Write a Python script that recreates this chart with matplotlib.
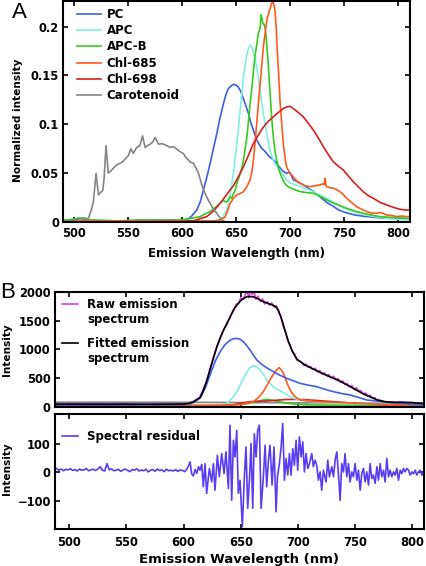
import matplotlib
matplotlib.use('Agg')
import matplotlib.pyplot as plt
from matplotlib.lines import Line2D

plt.rcParams['font.family'] = ['DejaVu Sans']
plt.rcParams['font.weight'] = 'bold'

# ---------------- panel A: normalized component spectra ----------------
pc_wl = [490, 550, 600, 604.5, 609, 613.7, 617, 619.8, 623, 626, 629, 632.2, 635, 638.3, 640.5, 642.9,
         645, 647.5, 650, 652.1, 654.5, 656.8, 659, 661.4, 663.5, 666, 669.1, 671.5, 673.7, 676, 678.3,
         680.5, 682.9, 685, 687.6, 690, 692.2, 694.5, 696.8, 699.5, 702.9, 707, 712.1, 716, 721.4, 726,
         730.6, 735, 739.8, 745, 752.2, 760, 767.5, 775, 782.8, 795, 807.5, 811]
pc_val = [0.001, 0.001, 0.001, 0.002, 0.006, 0.0122, 0.021, 0.0327, 0.046, 0.060, 0.075, 0.0905, 0.106,
          0.121, 0.130, 0.1364, 0.139, 0.1408, 0.140, 0.138, 0.133, 0.126, 0.119, 0.1109, 0.102, 0.094,
          0.0837, 0.079, 0.0752, 0.073, 0.070, 0.067, 0.065, 0.063, 0.060, 0.056, 0.0531, 0.051, 0.0497,
          0.051, 0.043, 0.041, 0.038, 0.035, 0.0313, 0.027, 0.0228, 0.019, 0.016, 0.012, 0.0092, 0.007,
          0.0058, 0.005, 0.0041, 0.0035, 0.003, 0.003]

apc_wl = [490, 600, 630, 635.2, 638, 641.4, 644, 646, 648.5, 650.6, 652.2, 653.7, 655.3, 656.8, 658.3,
          659.9, 661.4, 662.9, 664.5, 666, 667.5, 669.1, 670.6, 672.2, 673.7, 675.2, 676.8, 678.3, 679.9,
          681.4, 683.5, 686, 688.3, 690.6, 693.5, 696.8, 699.9, 705, 710, 715, 721.4, 728, 735, 742, 750,
          760, 770, 780, 795, 811]
apc_val = [0.001, 0.001, 0.001, 0.002, 0.006, 0.0122, 0.024, 0.0388, 0.058, 0.0796, 0.096, 0.1136, 0.131,
           0.1476, 0.160, 0.1714, 0.177, 0.1806, 0.179, 0.173, 0.167, 0.1578, 0.147, 0.1341, 0.122, 0.1103,
           0.100, 0.090, 0.081, 0.073, 0.066, 0.0592, 0.056, 0.0531, 0.048, 0.043, 0.040, 0.038, 0.036,
           0.034, 0.031, 0.027, 0.023, 0.019, 0.0139, 0.010, 0.007, 0.005, 0.003, 0.002]

apcb_wl = [490, 495, 500, 505, 510, 515, 520, 540, 560, 580, 600, 605, 610, 616.8, 621, 626, 630, 635.2,
           638, 641, 644.5, 646, 647.5, 649, 650.6, 652.2, 653.7, 655.3, 656.8, 658.3, 659.9, 661.4, 662.9,
           664.5, 666, 667.5, 669.1, 670.6, 672.2, 673, 673.7, 674.8, 676.1, 677.2, 678.3, 679.5, 680.7,
           681.8, 682.9, 684, 685.1, 686.3, 687.6, 690, 692.2, 694.5, 696.8, 700, 704, 709.1, 715, 721.4,
           728, 736.8, 745, 752.2, 760, 767.5, 775, 782.8, 795, 807.5, 811]
apcb_val = [0.002, 0.002, 0.003, 0.004, 0.004, 0.002, 0.002, 0.001, 0.002, 0.002, 0.002, 0.003, 0.004,
            0.0054, 0.008, 0.0105, 0.014, 0.019, 0.022, 0.020, 0.0258, 0.024, 0.029, 0.032, 0.039, 0.044,
            0.0497, 0.055, 0.063, 0.074, 0.0864, 0.103, 0.1204, 0.136, 0.1544, 0.170, 0.1816, 0.193, 0.1986,
            0.212, 0.2088, 0.203, 0.202, 0.196, 0.1816, 0.165, 0.1442, 0.125, 0.1068, 0.092, 0.0796, 0.070,
            0.0626, 0.052, 0.0456, 0.040, 0.0371, 0.035, 0.033, 0.031, 0.030, 0.0293, 0.026, 0.0207, 0.017,
            0.0139, 0.011, 0.0088, 0.007, 0.0054, 0.0045, 0.0037, 0.0035]

c685_wl = [490, 550, 600, 620, 630, 635.2, 639.8, 642, 644.5, 647.5, 650.6, 653.7, 656.8, 659.9, 662.9,
           664.5, 666, 667.5, 669.1, 670.6, 672.2, 673.7, 675.2, 676.8, 678.3, 679.9, 681.4, 682.6, 683.9,
           685, 686, 687, 688.1, 689.4, 690.6, 692.2, 693.7, 695.3, 696.8, 699.9, 702.9, 706, 709.1, 713.5,
           718.3, 723, 727.6, 730, 731.5, 732.2, 733, 733.7, 736.5, 739.8, 743, 746, 749, 752.2, 756.5,
           761.4, 766, 770.7, 775, 779.9, 784, 789.1, 794, 798.4, 803, 807.5, 811]
c685_val = [0.001, 0.001, 0.001, 0.001, 0.001, 0.002, 0.005, 0.011, 0.019, 0.024, 0.0276, 0.029, 0.031,
            0.036, 0.043, 0.051, 0.063, 0.081, 0.1006, 0.121, 0.1415, 0.160, 0.179, 0.193, 0.206, 0.213,
            0.218, 0.223, 0.226, 0.222, 0.216, 0.200, 0.1748, 0.150, 0.1238, 0.100, 0.080, 0.065, 0.0558,
            0.050, 0.046, 0.042, 0.0395, 0.037, 0.0361, 0.037, 0.0378, 0.039, 0.038, 0.0446, 0.038, 0.036,
            0.035, 0.0344, 0.033, 0.031, 0.028, 0.0242, 0.020, 0.0156, 0.013, 0.0105, 0.009, 0.0088, 0.0095,
            0.0071, 0.0065, 0.0054, 0.006, 0.0054, 0.0054]

c698_wl = [490, 550, 600, 610, 616, 622.9, 629, 635.2, 640, 644.5, 647.5, 652.2, 656.8, 661.4, 666, 670.6,
           675.2, 679.8, 684.4, 689, 693.7, 696.8, 699.9, 702.9, 707.5, 712.1, 716.8, 721.4, 726, 730.6,
           735.2, 739.8, 744.5, 749.1, 753.7, 758.3, 763, 767.5, 772, 776.8, 783, 789.1, 795, 801.4, 806, 811]
c698_val = [0.0, 0.0, 0.0005, 0.001, 0.003, 0.0054, 0.011, 0.019, 0.026, 0.0327, 0.037, 0.0463, 0.0565,
            0.068, 0.0803, 0.089, 0.097, 0.103, 0.1075, 0.112, 0.116, 0.1177, 0.1183, 0.116, 0.112, 0.1075,
            0.101, 0.094, 0.086, 0.077, 0.069, 0.0616, 0.057, 0.0531, 0.047, 0.0412, 0.036, 0.031, 0.027,
            0.0242, 0.020, 0.0174, 0.015, 0.0129, 0.0122, 0.012]

car_wl = [490, 495, 500, 505, 508, 511, 513.6, 516, 518, 520.5, 522.7, 524.5, 526.7, 528, 529.7, 531.8, 534,
          536.4, 539, 542.6, 545.5, 548.8, 550.5, 552.7, 554.9, 558, 561, 563.5, 565.9, 568, 570.6, 573,
          575.2, 578.2, 580.5, 582.8, 586, 589, 592, 595.2, 598, 601.3, 603.5, 605.9, 608, 610.5, 613,
          615.2, 617.5, 619.8, 623, 626, 629, 632.2, 634.5, 636.8, 640]
car_val = [0.001, 0.001, 0.002, 0.003, 0.003, 0.002, 0.004, 0.012, 0.020, 0.0497, 0.0276, 0.030, 0.032,
           0.045, 0.078, 0.050, 0.052, 0.0548, 0.058, 0.0599, 0.062, 0.066, 0.068, 0.075, 0.070, 0.0762,
           0.0779, 0.088, 0.0762, 0.078, 0.0796, 0.082, 0.0864, 0.0796, 0.080, 0.0796, 0.078, 0.0762, 0.077,
           0.0745, 0.072, 0.070, 0.066, 0.0633, 0.061, 0.060, 0.055, 0.0497, 0.041, 0.0327, 0.025, 0.019,
           0.013, 0.0088, 0.005, 0.002, 0.0]

# ---------------- panel B: measured spectrum and fit ----------------
raw_wl = [487, 495, 505, 515, 525, 535, 545, 555, 565, 575, 585, 595, 600, 605, 609, 614, 617, 620, 623,
          626, 629, 632, 635, 638, 641, 644, 646, 648, 650, 652, 654, 655.5, 657, 658.5, 660, 661.5, 663,
          665, 667, 669, 671, 673, 675, 677, 679, 681, 683, 685, 687, 689, 691, 693, 695, 697, 699, 701,
          703, 705, 707, 709, 711, 713, 715, 717, 719, 721, 723, 725, 727, 729, 731, 733, 735, 737, 739,
          741, 743, 745, 747, 749, 751, 753, 755, 757, 759, 761, 763, 765, 767, 769, 772, 776, 780, 785,
          790, 795, 800, 805, 810]
raw_val = [48, 42, 50, 44, 47, 41, 49, 45, 43, 48, 44, 46, 50, 62, 95, 160, 300, 440, 660, 840, 1050, 1190,
           1350, 1440, 1590, 1690, 1790, 1800, 1900, 1870, 1960, 2010, 1900, 2040, 1950, 2020, 1880, 1930,
           1840, 1880, 1790, 1830, 1770, 1810, 1740, 1760, 1640, 1580, 1400, 1310, 1150, 1080, 960, 920,
           810, 800, 780, 720, 740, 690, 700, 650, 670, 610, 630, 570, 590, 540, 560, 500, 530, 470, 490,
           430, 450, 390, 400, 340, 370, 300, 330, 270, 280, 220, 240, 190, 200, 150, 160, 110, 110, 80,
           85, 72, 80, 68, 72, 58, 60]

fit_wl = [487, 500, 520, 540, 560, 580, 600, 605, 609, 614.4, 617, 620.2, 623, 626, 629, 631.9, 634.8,
          637.7, 640.6, 643.6, 646.5, 649.4, 652.3, 655.2, 658.1, 661.1, 664, 666.9, 669.8, 672.7, 675.6,
          678.6, 680.8, 682.9, 685.1, 687.3, 689.5, 691.7, 693.9, 696, 699, 701.9, 706, 710.6, 716, 722.3,
          728, 734, 740, 745.7, 751.5, 757.3, 763, 769, 775, 780.7, 786.5, 792.3, 800, 806.9, 810]
fit_val = [45, 45, 44, 44, 43, 43, 46, 60, 90, 160, 270, 450, 640, 850, 1040, 1200, 1330, 1450, 1560,
           1690, 1770, 1840, 1890, 1918, 1922, 1915, 1890, 1860, 1830, 1810, 1790, 1765, 1740, 1680, 1560,
           1420, 1270, 1130, 1020, 930, 830, 785, 730, 682, 630, 570, 520, 470, 410, 350, 285, 220, 170,
           120, 90, 78, 76, 76, 70, 60, 55]

pcb_wl = [487, 540, 590, 600, 605, 609, 614.4, 619, 623.2, 627.5, 631.9, 636, 640.6, 643.5, 646.5, 649.5,
          652.3, 655, 658.1, 661, 664, 667.5, 671.2, 675, 678.6, 684, 690.2, 696, 701.9, 709, 716.5, 724,
          731, 738, 745.7, 753, 760.3, 767.5, 774.9, 782, 789.4, 800, 809.8]
pcb_val = [30, 30, 32, 35, 45, 75, 150, 330, 560, 790, 960, 1080, 1160, 1185, 1190, 1175, 1132, 1070, 987,
           900, 813, 750, 697, 650, 610, 550, 494, 450, 406, 375, 348, 300, 261, 230, 203, 160, 116, 100,
           87, 70, 58, 40, 29]

apcB_wl = [487, 600, 630, 637.7, 642, 646.5, 650, 653.8, 657.5, 661.1, 664, 666.9, 669.8, 672.7, 675.6,
           678.6, 682, 685.9, 689.5, 693.1, 697, 701.9, 709, 716.5, 730, 760, 810]
apcB_val = [20, 20, 25, 58, 140, 261, 400, 552, 670, 718, 690, 639, 560, 465, 400, 348, 300, 261, 215, 174,
            140, 116, 95, 75, 60, 45, 35]

apcbB_wl = [487, 600, 640, 655, 661, 667, 672.7, 678, 683.5, 690, 696, 710, 810]
apcbB_val = [20, 20, 25, 50, 75, 105, 128, 110, 87, 60, 46, 30, 20]

c685B_wl = [487, 600, 630, 650, 661, 665.5, 669.6, 672.5, 675.4, 678.3, 681.2, 683.5, 685.4, 687.3, 689.5,
            691.7, 694, 696, 699, 701.9, 716.5, 740, 760, 780, 810]
c685B_val = [20, 20, 25, 35, 87, 160, 261, 360, 465, 560, 639, 682, 640, 581, 460, 348, 260, 203, 150, 116,
             87, 70, 50, 35, 25]

c698B_wl = [487, 600, 628, 643.6, 658, 672.7, 690, 700, 710.6, 731, 754, 778, 795, 810]
c698B_val = [15, 15, 20, 35, 87, 100, 125, 128, 116, 87, 52, 30, 20, 15]

carB_wl = [487, 550, 600, 650, 700, 750, 810]
carB_val = [78, 78, 76, 72, 68, 62, 58]

# residual of the fit
res_wl = [487, 489, 491, 493, 495, 497, 499, 501, 503, 505, 507, 509, 511, 513, 515, 517, 519, 521, 523,
          525, 527, 529, 531, 533, 535, 537, 539, 541, 543, 545, 547, 549, 551, 553, 555, 557, 559, 561,
          563, 565, 567, 569, 571, 573, 575, 577, 579, 581, 583, 585, 587, 589, 591, 593, 595, 597, 599,
          601, 603, 605.6, 607, 608.5, 610, 611.4, 613, 614.3, 615.8, 617.2, 618.7, 620.1, 622.5, 624.5,
          626.0, 627.4, 629.5, 631.2, 633.3, 635.3, 637.0, 639.1, 640.5, 642.0, 643.5, 644.9, 646.4, 647.8,
          649.3, 651.3, 653.1, 654.5, 656.0, 657.5, 658.9, 660.4, 661.8, 663.3, 664.7, 666.2, 667.7, 669.7,
          671.2, 672.6, 674.1, 675.5, 677.3, 679.0, 680.8, 682.0, 683.7, 685.2, 686.6, 688.1, 689.5, 691.0,
          692.5, 693.9, 695.4, 696.8, 698.3, 699.7, 701.2, 702.7, 704.1, 705.6, 707.0, 708.5, 710.0, 712.0,
          713.4, 714.9, 716.4, 717.8, 719.3, 720.7, 722.2, 724.5, 726.0, 727.4, 729.5, 731.0, 732.4, 733.9,
          735.3, 736.8, 738.2, 739.7, 741.1, 742.6, 744.1, 745.5, 747.0, 748.4, 749.9, 751.4, 752.8, 754.3,
          755.7, 757.2, 758.6, 760.1, 761.6, 763.0, 764.5, 765.9, 767.4, 768.9, 770.3, 771.8, 773.2, 774.7,
          776.1, 777.6, 779.1, 780.5, 782.0, 783.4, 784.9, 786.3, 787.8, 789.3, 790.7, 792.2, 793.6, 795.1,
          796.6, 798.0, 799.5, 800.9, 802.4, 803.8, 805.3, 806.8, 808.2, 809.7]
res_val = [10, 14, 8, 12, 6, 11, 9, 13, 7, 10, 5, 12, 8, 9, 14, 6, 10, 11, 7, 12, 20, 8, 5, 31, 9, 13, 6,
           8, 11, 4, 9, 12, 7, 3, 10, 8, 13, 5, 9, 6, 11, 2, 8, 10, 4, 12, 7, 9, 3, 11, 6, 8, 5, 10, 4, 9,
           7, 3, 12, 37, -5, -12, 10, -3, 20, 8, 28, -50, 31, -73, 14, -33, 31, -62, 60, -15, 66, -4, 72,
           -56, 165, -97, 112, 54, 147, -73, -27, -189, -15, 89, -125, -27, 101, -125, 135, 54, 147, 165,
           -125, -15, 95, -50, 43, 95, -44, 89, -137, -15, 31, 89, 171, -27, 49, -9, 66, -9, 83, 25, 112,
           8, 124, 54, 107, 2, 66, 14, 31, 66, 20, 43, 25, -27, 2, -62, 8, -33, 43, -15, 20, -15, 43, 72,
           -4, -97, 31, 2, 66, -15, 31, -33, 2, -15, 31, -27, 8, -62, -4, 14, -33, 2, -44, 31, -21, -9,
           -38, 20, -27, 31, -15, 8, -33, 49, -15, 8, -15, 2, -9, 14, -27, 8, -4, 14, 2, 14, 8, -9, 2, -4,
           8, -9, 2, 8, -9, 2]

wl_ticks = [500, 550, 600, 650, 700, 750, 800]

# ---------------- figure ----------------
fig = plt.figure(figsize=(4.26, 5.66), dpi=100)
axA = fig.add_axes([0.148, 0.608, 0.815, 0.390])
axB1 = fig.add_axes([0.129, 0.281, 0.866, 0.203])
axB2 = fig.add_axes([0.129, 0.065, 0.866, 0.203])

lw = 1.2
axA.plot(pc_wl, pc_val, color='#3f5fe0', lw=lw, label='PC')
axA.plot(apc_wl, apc_val, color='#80f0e0', lw=lw, label='APC')
axA.plot(apcb_wl, apcb_val, color='#33cc22', lw=lw, label='APC-B')
axA.plot(c685_wl, c685_val, color='#ff5a1e', lw=lw, label='Chl-685')
axA.plot(c698_wl, c698_val, color='#d42020', lw=lw, label='Chl-698')
axA.plot(car_wl, car_val, color='#858585', lw=lw, label='Carotenoid')
axA.set_xlim(490, 811)
axA.set_ylim(0, 0.226)
axA.set_yticks([0, 0.05, 0.1, 0.15, 0.2])
axA.set_yticklabels(['0', '0.05', '0.1', '0.15', '0.2'])
axA.set_xticks(wl_ticks)
axA.set_xlabel('Emission Wavelength (nm)', fontsize=8.5, fontweight='bold', labelpad=5)
axA.set_ylabel('Normalized intensity', fontsize=7.6, fontweight='bold')
axA.yaxis.set_label_coords(-0.115, 0.46)
axA.legend(loc='upper left', bbox_to_anchor=(0.04, 0.97), frameon=False,
           borderpad=0, borderaxespad=0, handlelength=2.0, handletextpad=0.5, labelspacing=0.28,
           prop={'weight': 'bold', 'size': 8.5})

axB1.plot(raw_wl, raw_val, color='#e040e0', lw=lw)
axB1.plot(carB_wl, carB_val, color='#858585', lw=lw)
axB1.plot(apcbB_wl, apcbB_val, color='#33cc22', lw=lw)
axB1.plot(c698B_wl, c698B_val, color='#d42020', lw=lw)
axB1.plot(apcB_wl, apcB_val, color='#80f0e0', lw=lw)
axB1.plot(c685B_wl, c685B_val, color='#ff5a1e', lw=lw)
axB1.plot(pcb_wl, pcb_val, color='#3f5fe0', lw=lw)
axB1.plot(fit_wl, fit_val, color='black', lw=lw)
axB1.set_xlim(487.5, 810)
axB1.set_ylim(-5, 2000)
axB1.set_yticks([0, 500, 1000, 1500, 2000])
axB1.set_xticks(wl_ticks)
axB1.set_xticklabels([])
axB1.set_ylabel('Intensity', fontsize=7.6, fontweight='bold')
axB1.yaxis.set_label_coords(-0.117, 0.5)
legkw = dict(loc='upper left', frameon=False, borderpad=0, borderaxespad=0, handlelength=1.4,
             handletextpad=0.75, labelspacing=0.1, prop={'weight': 'bold', 'size': 8.5})
leg1 = axB1.legend([Line2D([], [], color='#e040e0', lw=lw), Line2D([], [], color='none')],
                   ['Raw emission', 'spectrum'], bbox_to_anchor=(0.019, 0.945), **legkw)
axB1.add_artist(leg1)
axB1.legend([Line2D([], [], color='black', lw=lw), Line2D([], [], color='none')],
            ['Fitted emission', 'spectrum'], bbox_to_anchor=(0.019, 0.605), **legkw)

axB2.plot(res_wl, res_val, color='#5a3cf0', lw=lw, label='Spectral residual')
axB2.set_xlim(487.5, 810)
axB2.set_ylim(-198, 203)
axB2.set_yticks([-100, 0, 100])
axB2.set_xticks(wl_ticks)
axB2.set_xlabel('Emission Wavelength (nm)', fontsize=9.5, fontweight='bold', labelpad=3)
axB2.set_ylabel('Intensity', fontsize=7.6, fontweight='bold')
axB2.yaxis.set_label_coords(-0.117, 0.53)
axB2.legend(loc='upper left', bbox_to_anchor=(0.019, 0.86), frameon=False, borderpad=0,
            borderaxespad=0, handlelength=1.4, handletextpad=0.75,
            prop={'weight': 'bold', 'size': 8.5})

for ax in (axA, axB1, axB2):
    for sp in ax.spines.values():
        sp.set_linewidth(1.5)
    ax.tick_params(direction='in', top=True, right=True, length=3.5, width=1.2,
                   labelsize=8.3, pad=3)
    for lab in ax.get_xticklabels() + ax.get_yticklabels():
        lab.set_fontweight('bold')
axB2.tick_params(axis='x', pad=5)
axA.tick_params(axis='x', pad=4)

fig.text(19 / 426, 1 - 13 / 566, 'A', fontsize=16, ha='center', va='center', fontweight='normal',
         family='Liberation Sans')
fig.text(8 / 426, 1 - 293 / 566, 'B', fontsize=16, ha='center', va='center', fontweight='normal',
         family='Liberation Sans')

fig.savefig('out.png', dpi=100)
